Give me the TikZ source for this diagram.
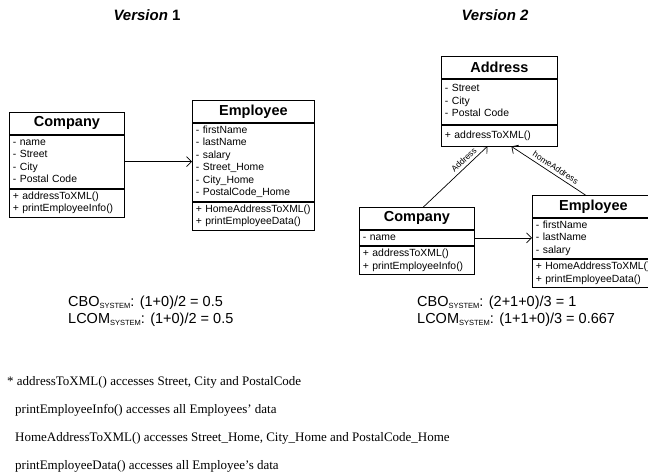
\documentclass[tikz,border=0pt]{standalone}
\usepackage{fontspec}
\setmainfont{Liberation Serif}
\setsansfont{Liberation Sans}
\usetikzlibrary{positioning}
\usetikzlibrary{calc}
\usetikzlibrary{arrows.meta}

\newcommand{\sysidx}{\raisebox{-2pt}{\fontsize{7.5}{8}\selectfont SYSTEM}}

\begin{document}
\begin{tikzpicture}[x=1pt, y=-1pt, >={Straight Barb[length=5pt,width=10pt]},
  vtitle/.style={font=\sffamily\bfseries\fontsize{15}{18}\selectfont},
  classname/.style={draw, line width=.8pt, minimum width=#1, minimum height=22pt, inner sep=0pt,
    font=\sffamily\bfseries\fontsize{14.5}{16}\selectfont},
  classpart/.style={draw, line width=.8pt, text width=#1, inner xsep=3.5pt, inner ysep=1.5pt,
    align=left, font=\sffamily\fontsize{10.4}{12.5}\selectfont,
    execute at begin node=\strut, execute at end node=\strut},
  assoc/.style={->, line width=.7pt},
  rolename/.style={sloped, above, inner sep=3pt, font=\sffamily\fontsize{8.5}{10}\selectfont},
  metric/.style={anchor=base west, inner sep=0pt, font=\sffamily\fontsize{14.5}{17}\selectfont},
  note/.style={anchor=base west, inner sep=0pt, font=\fontsize{13}{15}\selectfont}]

  \useasboundingbox (0,0) rectangle (648,475);
  \clip (0,0) rectangle (648,475);

  \node[vtitle] (v1title) at (147,15) {\textit{Version} 1};
  \node[vtitle] (v2title) at (495,15) {\textit{Version 2}};

  % version 1
  \node[classname=115pt, anchor=north west] (c1name) at (9,112) {Company};
  \node[classpart=108pt, below=0pt of c1name] (c1attr) {- name\\- Street\\- City\\- Postal Code};
  \node[classpart=108pt, below=0pt of c1attr] (c1meth) {+ addressToXML()\\+ printEmployeeInfo()};

  \node[classname=122pt, anchor=north west] (e1name) at (192,100) {Employee};
  \node[classpart=115pt, below=0pt of e1name] (e1attr) {- firstName\\- lastName\\- salary\\- Street\_Home\\- City\_Home\\- PostalCode\_Home};
  \node[classpart=115pt, below=0pt of e1attr] (e1meth) {+ HomeAddressToXML()\\+ printEmployeeData()};

  \draw[assoc] (c1attr.east) -- (c1attr.east -| e1attr.west);

  % version 2
  \node[classname=116pt, anchor=north west] (adname) at (441,56) {Address};
  \node[classpart=109pt, minimum height=45pt, below=0pt of adname] (adattr) {- Street\\- City\\- Postal Code};
  \node[classpart=109pt, minimum height=21pt, below=0pt of adattr] (admeth) {+ addressToXML()};

  \node[classname=115pt, anchor=north west] (c2name) at (359,207) {Company};
  \node[classpart=108pt, below=0pt of c2name] (c2attr) {- name};
  \node[classpart=108pt, below=0pt of c2attr] (c2meth) {+ addressToXML()\\+ printEmployeeInfo()};

  \node[classname=122pt, anchor=north west] (e2name) at (532,195) {Employee};
  \node[classpart=115pt, below=0pt of e2name] (e2attr) {- firstName\\- lastName\\- salary};
  \node[classpart=115pt, below=0pt of e2attr] (e2meth) {+ HomeAddressToXML()\\+ printEmployeeData()};

  \coordinate (adin1) at ($(admeth.south)+(-12,0)$);
  \coordinate (adin2) at ($(admeth.south)+(12,0)$);
  \coordinate (c2out) at ($(c2name.north)+(6.5,0)$);
  \coordinate (e2out) at ($(e2name.north)+(-8,0)$);

  \draw[assoc] (c2out) -- node[rolename, pos=.7] {Address} (adin1);
  \draw[assoc] (e2out) -- node[rolename, pos=.45] {homeAddress} (adin2);
  \draw[assoc] (c2attr.east) -- (c2attr.east -| e2attr.west);

  % metrics
  \node[metric] (cbo1) at (68,306) {CBO\sysidx: (1+0)/2 = 0.5};
  \node[metric] (lcom1) at (68,323) {LCOM\sysidx: (1+0)/2 = 0.5};
  \node[metric] (cbo2) at (417,306) {CBO\sysidx: (2+1+0)/3 = 1};
  \node[metric] (lcom2) at (417,323) {LCOM\sysidx: (1+1+0)/3 = 0.667};

  % notes
  \node[note] (note1) at (7,385) {* addressToXML() accesses Street, City and PostalCode};
  \node[note] (note2) at (15,413) {printEmployeeInfo() accesses all Employees’ data};
  \node[note] (note3) at (15,441) {HomeAddressToXML() accesses Street\_Home, City\_Home and PostalCode\_Home};
  \node[note] (note4) at (15,469) {printEmployeeData() accesses all Employee’s data};
\end{tikzpicture}
\end{document}
